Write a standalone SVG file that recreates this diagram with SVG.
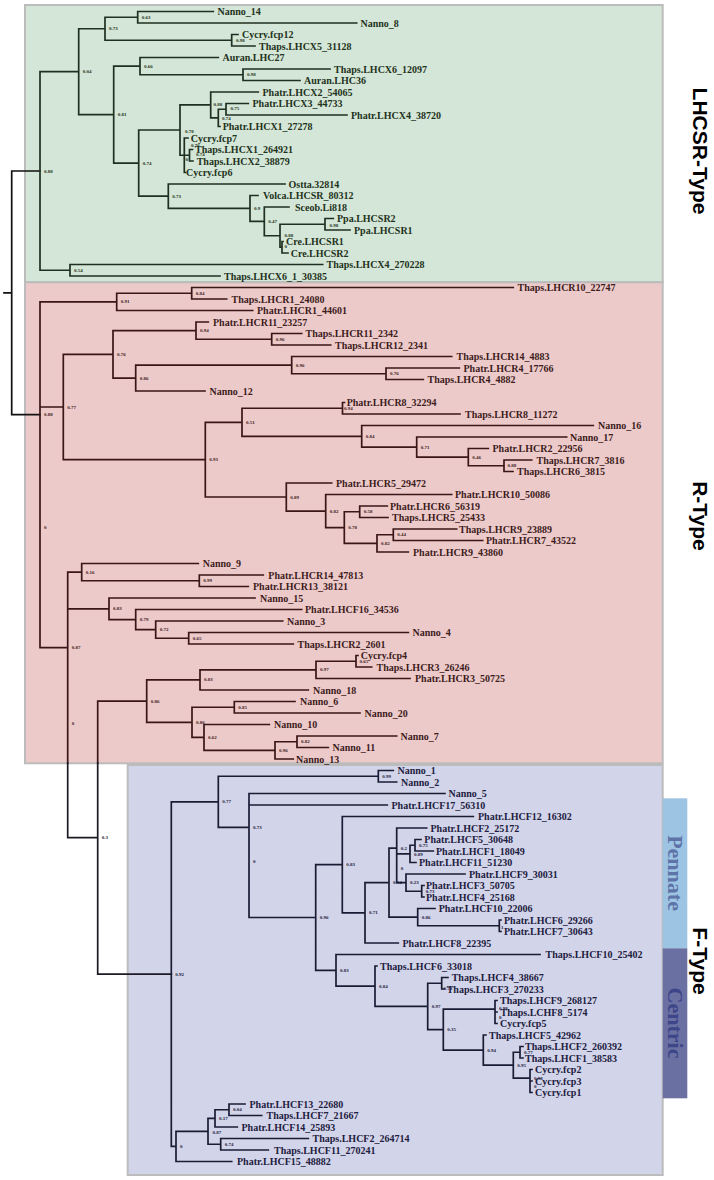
<svg xmlns="http://www.w3.org/2000/svg" width="714" height="1180" viewBox="0 0 714 1180">
<style>
.lf{font-family:"Liberation Serif",serif;font-weight:bold;font-size:10px;dominant-baseline:central}
.bs{font-family:"Liberation Serif",serif;font-weight:bold;font-size:5px;dominant-baseline:central}
.g text{fill:#1e3220}.r text{fill:#3d1c1c}.f text{fill:#1d2040}
.br{fill:none;stroke-width:1.7;stroke-linecap:square}
.side{font-family:"Liberation Sans",Arial,sans-serif;font-weight:bold;font-size:21px;fill:#000}
.sub{font-family:"Liberation Serif",serif;font-weight:bold;font-size:22px}
</style>
<rect width="714" height="1180" fill="#fff"/>
<g id="panels">
<rect x="25" y="5" width="637.7" height="277.3" fill="#d4e6d7" stroke="#bcbcbc" stroke-width="2"/>
<rect x="25" y="282.3" width="637.7" height="481" fill="#edcaca" stroke="#bcbcbc" stroke-width="2"/>
<rect x="127.7" y="765" width="535" height="410" fill="#d2d4e9" stroke="#bcbcbc" stroke-width="2"/>
<rect x="662.7" y="798.3" width="24.6" height="150" fill="#9ec4e4"/>
<rect x="662.7" y="948.3" width="24.6" height="150" fill="#6b70a3"/>
</g>
<g id="type-labels">
<text class="side" text-anchor="middle" transform="translate(693,151) rotate(90)">LHCSR-Type</text>
<text class="side" text-anchor="middle" transform="translate(693,516) rotate(90)">R-Type</text>
<text class="side" text-anchor="middle" transform="translate(693,961) rotate(90)">F-Type</text>
<text class="sub" fill="#5e74a8" text-anchor="middle" transform="translate(668,873) rotate(90)">Pennate</text>
<text class="sub" fill="#3c4688" text-anchor="middle" transform="translate(668,1023) rotate(90)">Centric</text>
</g>
<g id="connectors">
<path class="br" stroke="#111" d="M4 292.8H11.7M11.7 171V414.6M11.7 171H40M11.7 414.6H40"/>
<path class="br" stroke="#1f3021" d="M40 71.7V270.25M40 71.7H78.7M40 270.25H70
M78.7 28.75V114.6M78.7 28.75H105M78.7 114.6H113.7
M105 17.25V40.25M105 17.25H137.7M105 40.25H231.7
M137.7 11.5V23M137.7 11.5H213.3M137.7 23H356.7
M231.7 34.5V46M231.7 34.5H238M231.7 46H255
M113.7 66.1V163.1M113.7 66.1H140M113.7 163.1H138.7
M140 57.5V74.75M140 57.5H218.3M140 74.75H243
M243 69V80.5M243 69H330M243 80.5H300
M138.7 130V196.2M138.7 130H180M138.7 196.2H168.3
M180 104.95V155.25M180 104.95H210.7M180 155.25H184.3
M210.7 92V117.9M210.7 92H258.3M210.7 117.9H218.3
M218.3 109.25V126.5M218.3 109.25H226M218.3 126.5H220
M226 103.5V115M226 103.5H248.3M226 115H347
M184.3 138V172.5M184.3 138H188M184.3 155.25H189.5M184.3 172.5H185.5
M189.5 149.5V161M189.5 149.5H192.5M189.5 161H193
M168.3 184V208.45M168.3 184H285M168.3 208.45H250
M250 195.5V221.4M250 195.5H258M250 221.4H264.3
M264.3 207V235.75M264.3 207H289M264.3 235.75H280
M280 224.25V247.25M280 224.25H325M280 247.25H282
M282 241.5V253M282 241.5H283M282 253H288
M325 218.5V230M325 218.5H333.3M325 230H350
M70 264.5V276M70 264.5H322.7M70 276H220"/>
<path class="br" stroke="#3a1616" d="M40 301.9V647.65M40 301.9H116.7M40 406.98H63.3M40 647.65H67.7
M116.7 293.25V310.5M116.7 293.25H191.7M116.7 310.5H252.7
M191.7 287.5V299M191.7 287.5H513.3M191.7 299H226.7
M63.3 354.3V459.65M63.3 354.3H113M63.3 459.65H205.3
M113 330.6V378.05M113 330.6H196M113 378.05H135.7
M196 322V339.25M196 322H208.3M196 339.25H271.7
M271.7 333.5V345M271.7 333.5H301.7M271.7 345H330.7
M135.7 365.1V391M135.7 365.1H291.7M135.7 391H205
M291.7 356.5V373.75M291.7 356.5H451.7M291.7 373.75H386
M386 368V379.5M386 368H459.3M386 379.5H423.3
M205.3 422.3V497M205.3 422.3H242M205.3 497H286.3
M242 408.25V436.3M242 408.25H342.5M242 436.3H361.7
M342.5 402.5V414M342.5 402.5H344.5M342.5 414H460
M361.7 425.5V447.05M361.7 425.5H593.3M361.7 447.05H416.7
M416.7 437V457.1M416.7 437H566.7M416.7 457.1H468.3
M468.3 448.5V465.75M468.3 448.5H488.3M468.3 465.75H504
M504 460V471.5M504 460H531.7M504 471.5H513
M286.3 483V511.05M286.3 483H331.7M286.3 511.05H325.7
M325.7 494.5V527.6M325.7 494.5H451.7M325.7 527.6H344.3
M344.3 511.75V543.4M344.3 511.75H359.7M344.3 543.4H377
M359.7 506V517.5M359.7 506H387.3M359.7 517.5H388
M377 534.75V552M377 534.75H393.3M377 552H408.3
M393.3 529V540.5M393.3 529H456.7M393.3 540.5H482.7
M67.7 572.1V763M67.7 572.1H81.7M67.7 608.8H109
M81.7 563.5V580.75M81.7 563.5H198.3M81.7 580.75H199.3
M199.3 575V586.5M199.3 575H263.3M199.3 586.5H248.3
M109 598V619.55M109 598H255M109 619.55H135.7
M135.7 609.5V629.6M135.7 609.5H301.7M135.7 629.6H155.7
M155.7 621V638.25M155.7 621H282.7M155.7 638.25H188.7
M188.7 632.5V644M188.7 632.5H408.3M188.7 644H293.3
M97.7 701.15V763M97.7 701.15H146.7
M146.7 679.95V722.35M146.7 679.95H200M146.7 722.35H192
M200 669.9V690M200 669.9H316M200 690H308.3
M316 661.25V678.5M316 661.25H356M316 678.5H410
M356 655.5V667M356 655.5H358M356 667H371.7
M192 707.25V737.45M192 707.25H234.3M192 737.45H204
M234.3 701.5V713M234.3 701.5H295M234.3 713H360
M204 724.5V750.4M204 724.5H269.3M204 750.4H275
M275 741.75V759M275 741.75H297M275 759H293.3
M297 736V747.5M297 736H396.7M297 747.5H328.3"/>
<path class="br" stroke="#1c1a24" d="M67.7 763V837.6H97.7M97.7 763V974.1H171.3"/>
<path class="br" stroke="#1a1c36" d="M171.3 801.8V1146.4M171.3 801.8H218.3M171.3 1146.4H176
M218.3 776.25V827.4M218.3 776.25H378.3M218.3 827.4H249
M378.3 770.5V782M378.3 770.5H393.3M378.3 782H396.7
M249 793.5V917.5M249 793.5H445M249 805H387.3M249 917.5H315.7
M315.7 864.65V970.35M315.7 864.65H342.3M315.7 970.35H336
M342.3 816.5V912.8M342.3 816.5H473.3M342.3 912.8H365
M365 882.6V943M365 882.6H389M365 943H398.3
M389 848.1V917.1M389 848.1H396.7M389 917.1H417.7
M396.7 828V882.6M396.7 828H426.7M396.7 853.9H410M396.7 882.6H406
M410 845.25V862.5M410 845.25H415M410 862.5H416
M415 839.5V851M415 839.5H421M415 851H433.3
M406 874V891.25M406 874H465M406 891.25H421.7
M421.7 885.5V897M421.7 885.5H424M421.7 897H424
M417.7 908.5V925.75M417.7 908.5H435M417.7 925.75H499.3
M499.3 920V931.5M499.3 920H501M499.3 931.5H501
M336 954.5V986.2M336 954.5H540M336 986.2H375
M375 966V1006.4M375 966H377M375 1006.4H427.7
M427.7 983.25V1029.6M427.7 983.25H441.7M427.7 1029.6H443.3
M441.7 977.5V989M441.7 977.5H448M441.7 989H444
M443.3 1009.1V1050.1M443.3 1009.1H495M443.3 1050.1H483.3
M495 1000.5V1023.5M495 1000.5H497M495 1012H497M495 1023.5H497
M483.3 1035V1065.2M483.3 1035H486M483.3 1065.2H513.3
M513.3 1052.25V1078.1M513.3 1052.25H520M513.3 1078.1H530
M520 1046.5V1058M520 1046.5H523M520 1058H523
M530 1069.5V1092.5M530 1069.5H532M530 1081H532M530 1092.5H532
M176 1131.3V1161.5M176 1131.3H208M176 1161.5H231.7
M208 1118.4V1144.25M208 1118.4H215M208 1144.25H220.7
M215 1109.75V1127M215 1109.75H229M215 1127H237.3
M229 1104V1115.5M229 1104H245M229 1115.5H261.7
M220.7 1138.5V1150M220.7 1138.5H308.3M220.7 1150H268.3"/>
</g>
<g id="support-values">
<g class="g">
<text class="bs" x="44" y="171">0.88</text><text class="bs" x="82.7" y="71.7">0.04</text><text class="bs" x="109" y="28.75">0.73</text>
<text class="bs" x="141.7" y="17.25">0.63</text><text class="bs" x="236" y="40.5">0.98</text><text class="bs" x="117.7" y="114.6">0.81</text>
<text class="bs" x="144" y="66.1">0.66</text><text class="bs" x="247" y="74.75">0.98</text><text class="bs" x="142.7" y="163.1">0.74</text>
<text class="bs" x="213.5" y="104.5">0.88</text><text class="bs" x="230.5" y="108.5">0.75</text><text class="bs" x="222" y="118.5">0.74</text>
<text class="bs" x="185" y="131.7">0.78</text><text class="bs" x="191" y="145.5">0.76</text><text class="bs" x="196" y="154.5">0.74</text>
<text class="bs" x="185.5" y="159.5">0</text><text class="bs" x="172.3" y="196.2">0.73</text><text class="bs" x="254" y="208.45">0.9</text>
<text class="bs" x="268.3" y="221.4">0.47</text><text class="bs" x="284.5" y="235.5">0.88</text><text class="bs" x="284.5" y="246.5">0</text>
<text class="bs" x="329.5" y="225.5">0.98</text><text class="bs" x="74" y="270.25">0.54</text>
</g>
<g class="r">
<text class="bs" x="195.7" y="293.25">0.84</text><text class="bs" x="120.7" y="301.9">0.91</text><text class="bs" x="200" y="330.6">0.94</text>
<text class="bs" x="275.7" y="339.25">0.96</text><text class="bs" x="117" y="354.3">0.76</text><text class="bs" x="295.7" y="365.1">0.96</text>
<text class="bs" x="390" y="373.75">0.76</text><text class="bs" x="139.7" y="378.05">0.86</text><text class="bs" x="44" y="414.6">0.88</text>
<text class="bs" x="67.3" y="407">0.77</text><text class="bs" x="246" y="422.3">0.51</text><text class="bs" x="344" y="408.5">0.94</text>
<text class="bs" x="365.7" y="436.3">0.84</text><text class="bs" x="420.7" y="447.05">0.71</text><text class="bs" x="472.3" y="457.1">0.46</text>
<text class="bs" x="507.5" y="465.75">0.88</text><text class="bs" x="209.3" y="459.65">0.93</text><text class="bs" x="290.3" y="497">0.89</text>
<text class="bs" x="329.7" y="511.05">0.82</text><text class="bs" x="363.7" y="511.75">0.58</text><text class="bs" x="348.3" y="527.6">0.78</text>
<text class="bs" x="397.3" y="534.75">0.44</text><text class="bs" x="381" y="543.4">0.82</text><text class="bs" x="44" y="527.3">0</text>
<text class="bs" x="85.7" y="572.1">0.16</text><text class="bs" x="203.3" y="580.75">0.99</text><text class="bs" x="113" y="608.8">0.83</text>
<text class="bs" x="139.7" y="619.55">0.79</text><text class="bs" x="159.7" y="629.6">0.72</text><text class="bs" x="192.7" y="638.25">0.65</text>
<text class="bs" x="71.7" y="647.65">0.87</text><text class="bs" x="359.5" y="661.5">0.65</text><text class="bs" x="320" y="669.9">0.97</text>
<text class="bs" x="204" y="679.95">0.83</text><text class="bs" x="150.7" y="701.15">0.86</text><text class="bs" x="238.3" y="707.25">0.85</text>
<text class="bs" x="196" y="722.35">0.86</text><text class="bs" x="71.7" y="723.2">0</text><text class="bs" x="208" y="737.45">0.62</text>
<text class="bs" x="279" y="750.4">0.96</text><text class="bs" x="301" y="741.75">0.82</text>
</g>
<g class="f">
<text class="bs" x="101.7" y="837.6">0.3</text><text class="bs" x="175.3" y="974.1">0.92</text><text class="bs" x="222.3" y="801.8">0.77</text>
<text class="bs" x="382.3" y="776.25">0.99</text><text class="bs" x="253" y="827.4">0.73</text><text class="bs" x="253" y="861.25">0</text>
<text class="bs" x="319.7" y="917.5">0.96</text><text class="bs" x="346.3" y="864.65">0.83</text><text class="bs" x="369" y="912.8">0.71</text>
<text class="bs" x="393" y="882.6">0.04</text><text class="bs" x="400.7" y="848.1">0.2</text><text class="bs" x="400.7" y="868.25">0</text>
<text class="bs" x="414" y="854.5">0.89</text><text class="bs" x="419" y="845.25">0.75</text><text class="bs" x="410" y="882.6">0.23</text>
<text class="bs" x="425.7" y="891.25">0.73</text><text class="bs" x="421.7" y="917.1">0.86</text><text class="bs" x="501" y="927">1</text>
<text class="bs" x="340" y="970.35">0.83</text><text class="bs" x="379" y="986.2">0.84</text><text class="bs" x="443.5" y="988">0.73</text>
<text class="bs" x="431.7" y="1006.4">0.97</text><text class="bs" x="447.3" y="1029.6">0.35</text><text class="bs" x="499" y="1008">0.98</text>
<text class="bs" x="499" y="1017.75">0</text><text class="bs" x="487.3" y="1050.1">0.94</text><text class="bs" x="517.3" y="1065.2">0.95</text>
<text class="bs" x="524" y="1052.25">0.77</text><text class="bs" x="534" y="1078.1">0.93</text><text class="bs" x="534" y="1086.75">0</text>
<text class="bs" x="212.5" y="1132">0.87</text><text class="bs" x="219" y="1118.4">0.17</text><text class="bs" x="233" y="1109.75">0.04</text>
<text class="bs" x="224.7" y="1144.25">0.74</text><text class="bs" x="180" y="1146.4">0</text>
</g>
</g>
<g id="leaves-lhcsr" class="g">
<g id="Nanno_14"><text class="lf" x="217.5" y="11.5">Nanno_14</text></g>
<g id="Nanno_8"><text class="lf" x="360.5" y="23">Nanno_8</text></g>
<g id="Cycry_fcp12"><text class="lf" x="242" y="34.5">Cycry.fcp12</text></g>
<g id="Thaps_LHCX5_31128"><text class="lf" x="259" y="46">Thaps.LHCX5_31128</text></g>
<g id="Auran_LHC27"><text class="lf" x="222.5" y="57.5">Auran.LHC27</text></g>
<g id="Thaps_LHCX6_12097"><text class="lf" x="334" y="69">Thaps.LHCX6_12097</text></g>
<g id="Auran_LHC36"><text class="lf" x="304" y="80.5">Auran.LHC36</text></g>
<g id="Phatr_LHCX2_54065"><text class="lf" x="262.5" y="92">Phatr.LHCX2_54065</text></g>
<g id="Phatr_LHCX3_44733"><text class="lf" x="252.5" y="103.5">Phatr.LHCX3_44733</text></g>
<g id="Phatr_LHCX4_38720"><text class="lf" x="351" y="115">Phatr.LHCX4_38720</text></g>
<g id="Phatr_LHCX1_27278"><text class="lf" x="222.7" y="126.5">Phatr.LHCX1_27278</text></g>
<g id="Cycry_fcp7"><text class="lf" x="190.7" y="138">Cycry.fcp7</text></g>
<g id="Thaps_LHCX1_264921"><text class="lf" x="195" y="149.5">Thaps.LHCX1_264921</text></g>
<g id="Thaps_LHCX2_38879"><text class="lf" x="196.7" y="161">Thaps.LHCX2_38879</text></g>
<g id="Cycry_fcp6"><text class="lf" x="186" y="172.5">Cycry.fcp6</text></g>
<g id="Ostta_32814"><text class="lf" x="288.5" y="184">Ostta.32814</text></g>
<g id="Volca_LHCSR_80312"><text class="lf" x="263" y="195.5">Volca.LHCSR_80312</text></g>
<g id="Sceob_Li818"><text class="lf" x="295" y="207">Sceob.Li818</text></g>
<g id="Ppa_LHCSR2"><text class="lf" x="337" y="218.5">Ppa.LHCSR2</text></g>
<g id="Ppa_LHCSR1"><text class="lf" x="354" y="230">Ppa.LHCSR1</text></g>
<g id="Cre_LHCSR1"><text class="lf" x="286" y="241.5">Cre.LHCSR1</text></g>
<g id="Cre_LHCSR2"><text class="lf" x="290.7" y="253">Cre.LHCSR2</text></g>
<g id="Thaps_LHCX4_270228"><text class="lf" x="326.5" y="264.5">Thaps.LHCX4_270228</text></g>
<g id="Thaps_LHCX6_1_30385"><text class="lf" x="224" y="276">Thaps.LHCX6_1_30385</text></g>
</g>
<g id="leaves-r" class="r">
<g id="Thaps_LHCR10_22747"><text class="lf" x="517.5" y="287.5">Thaps.LHCR10_22747</text></g>
<g id="Thaps_LHCR1_24080"><text class="lf" x="231.5" y="299">Thaps.LHCR1_24080</text></g>
<g id="Phatr_LHCR1_44601"><text class="lf" x="257" y="310.5">Phatr.LHCR1_44601</text></g>
<g id="Phatr_LHCR11_23257"><text class="lf" x="213" y="322">Phatr.LHCR11_23257</text></g>
<g id="Thaps_LHCR11_2342"><text class="lf" x="305.5" y="333.5">Thaps.LHCR11_2342</text></g>
<g id="Thaps_LHCR12_2341"><text class="lf" x="335" y="345">Thaps.LHCR12_2341</text></g>
<g id="Thaps_LHCR14_4883"><text class="lf" x="456.5" y="356.5">Thaps.LHCR14_4883</text></g>
<g id="Phatr_LHCR4_17766"><text class="lf" x="463.5" y="368">Phatr.LHCR4_17766</text></g>
<g id="Thaps_LHCR4_4882"><text class="lf" x="427.5" y="379.5">Thaps.LHCR4_4882</text></g>
<g id="Nanno_12"><text class="lf" x="209.5" y="391">Nanno_12</text></g>
<g id="Phatr_LHCR8_32294"><text class="lf" x="346.7" y="402.5">Phatr.LHCR8_32294</text></g>
<g id="Thaps_LHCR8_11272"><text class="lf" x="465" y="414">Thaps.LHCR8_11272</text></g>
<g id="Nanno_16"><text class="lf" x="598" y="425.5">Nanno_16</text></g>
<g id="Nanno_17"><text class="lf" x="570" y="437">Nanno_17</text></g>
<g id="Phatr_LHCR2_22956"><text class="lf" x="492.5" y="448.5">Phatr.LHCR2_22956</text></g>
<g id="Thaps_LHCR7_3816"><text class="lf" x="536.5" y="460">Thaps.LHCR7_3816</text></g>
<g id="Thaps_LHCR6_3815"><text class="lf" x="517" y="471.5">Thaps.LHCR6_3815</text></g>
<g id="Phatr_LHCR5_29472"><text class="lf" x="336" y="483">Phatr.LHCR5_29472</text></g>
<g id="Phatr_LHCR10_50086"><text class="lf" x="455" y="494.5">Phatr.LHCR10_50086</text></g>
<g id="Phatr_LHCR6_56319"><text class="lf" x="390" y="506">Phatr.LHCR6_56319</text></g>
<g id="Thaps_LHCR5_25433"><text class="lf" x="392" y="517.5">Thaps.LHCR5_25433</text></g>
<g id="Thaps_LHCR9_23889"><text class="lf" x="459" y="529">Thaps.LHCR9_23889</text></g>
<g id="Phatr_LHCR7_43522"><text class="lf" x="486" y="540.5">Phatr.LHCR7_43522</text></g>
<g id="Phatr_LHCR9_43860"><text class="lf" x="413" y="552">Phatr.LHCR9_43860</text></g>
<g id="Nanno_9"><text class="lf" x="202.7" y="563.5">Nanno_9</text></g>
<g id="Phatr_LHCR14_47813"><text class="lf" x="268.3" y="575">Phatr.LHCR14_47813</text></g>
<g id="Phatr_LHCR13_38121"><text class="lf" x="253" y="586.5">Phatr.LHCR13_38121</text></g>
<g id="Nanno_15"><text class="lf" x="260" y="598">Nanno_15</text></g>
<g id="Phatr_LHCF16_34536"><text class="lf" x="305" y="609.5">Phatr.LHCF16_34536</text></g>
<g id="Nanno_3"><text class="lf" x="287" y="621">Nanno_3</text></g>
<g id="Nanno_4"><text class="lf" x="412.5" y="632.5">Nanno_4</text></g>
<g id="Thaps_LHCR2_2601"><text class="lf" x="297.5" y="644">Thaps.LHCR2_2601</text></g>
<g id="Cycry_fcp4"><text class="lf" x="360.7" y="655.5">Cycry.fcp4</text></g>
<g id="Thaps_LHCR3_26246"><text class="lf" x="376.5" y="667">Thaps.LHCR3_26246</text></g>
<g id="Phatr_LHCR3_50725"><text class="lf" x="415" y="678.5">Phatr.LHCR3_50725</text></g>
<g id="Nanno_18"><text class="lf" x="313" y="690">Nanno_18</text></g>
<g id="Nanno_6"><text class="lf" x="300" y="701.5">Nanno_6</text></g>
<g id="Nanno_20"><text class="lf" x="364.5" y="713">Nanno_20</text></g>
<g id="Nanno_10"><text class="lf" x="274" y="724.5">Nanno_10</text></g>
<g id="Nanno_7"><text class="lf" x="400.5" y="736">Nanno_7</text></g>
<g id="Nanno_11"><text class="lf" x="332.5" y="747.5">Nanno_11</text></g>
<g id="Nanno_13"><text class="lf" x="296" y="759">Nanno_13</text></g>
</g>
<g id="leaves-f" class="f">
<g id="Nanno_1"><text class="lf" x="397.5" y="770.5">Nanno_1</text></g>
<g id="Nanno_2"><text class="lf" x="401" y="782">Nanno_2</text></g>
<g id="Nanno_5"><text class="lf" x="448.5" y="793.5">Nanno_5</text></g>
<g id="Phatr_LHCF17_56310"><text class="lf" x="391.5" y="805">Phatr.LHCF17_56310</text></g>
<g id="Phatr_LHCF12_16302"><text class="lf" x="478" y="816.5">Phatr.LHCF12_16302</text></g>
<g id="Phatr_LHCF2_25172"><text class="lf" x="430.5" y="828">Phatr.LHCF2_25172</text></g>
<g id="Phatr_LHCF5_30648"><text class="lf" x="424.3" y="839.5">Phatr.LHCF5_30648</text></g>
<g id="Phatr_LHCF1_18049"><text class="lf" x="436" y="851">Phatr.LHCF1_18049</text></g>
<g id="Phatr_LHCF11_51230"><text class="lf" x="419" y="862.5">Phatr.LHCF11_51230</text></g>
<g id="Phatr_LHCF9_30031"><text class="lf" x="469" y="874">Phatr.LHCF9_30031</text></g>
<g id="Phatr_LHCF3_50705"><text class="lf" x="426" y="885.5">Phatr.LHCF3_50705</text></g>
<g id="Phatr_LHCF4_25168"><text class="lf" x="426" y="897">Phatr.LHCF4_25168</text></g>
<g id="Phatr_LHCF10_22006"><text class="lf" x="438.7" y="908.5">Phatr.LHCF10_22006</text></g>
<g id="Phatr_LHCF6_29266"><text class="lf" x="504" y="920">Phatr.LHCF6_29266</text></g>
<g id="Phatr_LHCF7_30643"><text class="lf" x="504" y="931.5">Phatr.LHCF7_30643</text></g>
<g id="Phatr_LHCF8_22395"><text class="lf" x="402.5" y="943">Phatr.LHCF8_22395</text></g>
<g id="Thaps_LHCF10_25402"><text class="lf" x="545.5" y="954.5">Thaps.LHCF10_25402</text></g>
<g id="Thaps_LHCF6_33018"><text class="lf" x="380" y="966">Thaps.LHCF6_33018</text></g>
<g id="Thaps_LHCF4_38667"><text class="lf" x="451.7" y="977.5">Thaps.LHCF4_38667</text></g>
<g id="Thaps_LHCF3_270233"><text class="lf" x="446.7" y="989">Thaps.LHCF3_270233</text></g>
<g id="Thaps_LHCF9_268127"><text class="lf" x="500" y="1000.5">Thaps.LHCF9_268127</text></g>
<g id="Thaps_LCHF8_5174"><text class="lf" x="500.5" y="1012">Thaps.LCHF8_5174</text></g>
<g id="Cycry_fcp5"><text class="lf" x="500" y="1023.5">Cycry.fcp5</text></g>
<g id="Thaps_LHCF5_42962"><text class="lf" x="489" y="1035">Thaps.LHCF5_42962</text></g>
<g id="Thaps_LHCF2_260392"><text class="lf" x="525" y="1046.5">Thaps.LHCF2_260392</text></g>
<g id="Thaps_LHCF1_38583"><text class="lf" x="525" y="1058">Thaps.LHCF1_38583</text></g>
<g id="Cycry_fcp2"><text class="lf" x="535" y="1069.5">Cycry.fcp2</text></g>
<g id="Cycry_fcp3"><text class="lf" x="535" y="1081">Cycry.fcp3</text></g>
<g id="Cycry_fcp1"><text class="lf" x="535" y="1092.5">Cycry.fcp1</text></g>
<g id="Phatr_LHCF13_22680"><text class="lf" x="249.5" y="1104">Phatr.LHCF13_22680</text></g>
<g id="Thaps_LHCF7_21667"><text class="lf" x="266.5" y="1115.5">Thaps.LHCF7_21667</text></g>
<g id="Phatr_LHCF14_25893"><text class="lf" x="241.5" y="1127">Phatr.LHCF14_25893</text></g>
<g id="Thaps_LHCF2_264714"><text class="lf" x="312.5" y="1138.5">Thaps.LHCF2_264714</text></g>
<g id="Thaps_LHCF11_270241"><text class="lf" x="274" y="1150">Thaps.LHCF11_270241</text></g>
<g id="Phatr_LHCF15_48882"><text class="lf" x="237" y="1161.5">Phatr.LHCF15_48882</text></g>
</g>
</svg>
